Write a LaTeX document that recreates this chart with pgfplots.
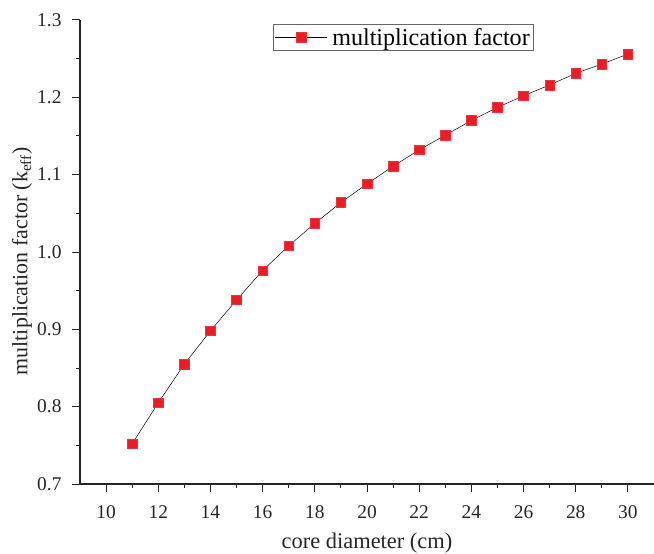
\documentclass[border=0pt]{standalone}
\usepackage{pgfplots}
\pgfplotsset{compat=1.18}
\usepackage{fontspec}
\setmainfont{Liberation Serif}
\definecolor{mred}{RGB}{237,28,36}
\begin{document}
\begin{tikzpicture}[x=1bp,y=1bp]
\begin{axis}[
  at={(0,0)}, anchor=south west,
  scale only axis,
  width=574bp, height=464bp,
  xmin=9, xmax=31, ymin=0.7, ymax=1.3,
  axis lines=left,
  axis line style={-, line width=1.1pt, black!85},
  xtick={10,12,...,30},
  ytick={0.7,0.8,...,1.3},
  minor x tick num=1, minor y tick num=1,
  tick align=outside,
  major tick length=8bp, minor tick length=4bp,
  tick style={line width=1pt, black!85},
  /pgf/number format/assume math mode=true,
  /pgf/number format/fixed, /pgf/number format/fixed zerofill,
  yticklabel style={/pgf/number format/precision=1, font=\fontsize{19.5}{21}\selectfont, text=black!85, xshift=-7bp},
  xticklabel style={/pgf/number format/precision=0, font=\fontsize{19.5}{21}\selectfont, text=black!85, yshift=-10bp},
  xlabel={core diameter (cm)},
  ylabel={multiplication factor (k\textsubscript{eff})},
  xlabel style={at={(axis description cs:0.5,-0.128)}, anchor=center, font=\fontsize{22.5}{24}\selectfont, text=black!85},
  ylabel style={at={(axis description cs:-0.101,0.48)}, anchor=center, font=\fontsize{22}{24}\selectfont, text=black!85},
  legend style={at={(0.336,0.991)}, anchor=north west, draw=black!60, line width=0.8pt,
    font=\fontsize{24.2}{26}\selectfont, inner sep=1.5bp, row sep=0pt,
    /tikz/every odd column/.append style={column sep=3bp}},
  legend cell align=left,
  legend image code/.code={%
    \draw[mark repeat=2,mark phase=2,#1] plot coordinates {(0bp,0bp) (26bp,0bp) (52bp,0bp)};},
]
\addplot[black, line width=0.5pt, mark=square*, mark size=4.8bp,
  mark options={fill=mred, draw=mred!90}]
coordinates {
(11,0.752) (12,0.805) (13,0.855) (14,0.898) (15,0.938) (16,0.976)
(17,1.008) (18,1.037) (19,1.064) (20,1.088) (21,1.111) (22,1.132)
(23,1.151) (24,1.170) (25,1.187) (26,1.202) (27,1.216) (28,1.231)
(29,1.243) (30,1.256)
};
\addlegendentry{multiplication factor}
\end{axis}
\pgfresetboundingbox
\useasboundingbox (-80bp,-70bp) rectangle (574bp,484bp);
\end{tikzpicture}
\end{document}
